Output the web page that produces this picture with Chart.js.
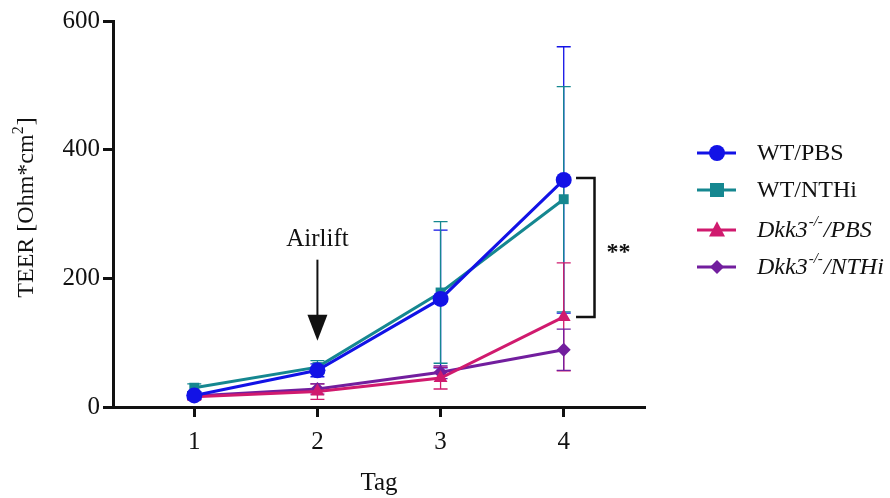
<!DOCTYPE html>
<html>
<head>
<meta charset="utf-8">
<script src="https://cdn.jsdelivr.net/npm/chart.js@4/dist/chart.umd.min.js"></script>
<style>
  html, body { margin: 0; padding: 0; background: #fff; }
  #wrap { width: 890px; height: 498px; }
</style>
</head>
<body>
<div id="wrap"><canvas id="chart" width="890" height="498"></canvas></div>
<script>
const days = [1, 2, 3, 4]
const yTicks = [0, 200, 400, 600]

const wtPbs = [18, 57, 168, 353]
const wtPbsSd = [6, 10, 107, 207]
const wtNthi = [30, 62, 178, 323]
const wtNthiSd = [6, 10, 110, 175]
const koPbs = [16, 24, 45, 140]
const koPbsSd = [5, 12, 17, 84]
const koNthi = [17, 28, 54, 89]
const koNthiSd = [5, 8, 10, 32]

const FONT = "'Liberation Serif', 'Times New Roman', serif"

const series = [
  { name: "WT/PBS", sup: "", tail: "", italic: false, data: wtPbs, sd: wtPbsSd, color: "#1212e6", style: "circle", r: 8 },
  { name: "WT/NTHi", sup: "", tail: "", italic: false, data: wtNthi, sd: wtNthiSd, color: "#158790", style: "rect", r: 7 },
  { name: "Dkk3", sup: "-/-", tail: "/PBS", italic: true, data: koPbs, sd: koPbsSd, color: "#d01a6e", style: "triangle", r: 8 },
  { name: "Dkk3", sup: "-/-", tail: "/NTHi", italic: true, data: koNthi, sd: koNthiSd, color: "#721e9e", style: "rectRot", r: 7 }
]

function drawMarker(ctx, style, x, y, r, color) {
  ctx.save()
  ctx.fillStyle = color
  ctx.beginPath()
  if (style == "circle") {
    ctx.arc(x, y, r, 0, Math.PI * 2)
  } else if (style == "rect") {
    ctx.rect(x - r, y - r, r * 2, r * 2)
  } else if (style == "triangle") {
    ctx.moveTo(x, y - r * 1.1)
    ctx.lineTo(x + r, y + r * 0.8)
    ctx.lineTo(x - r, y + r * 0.8)
    ctx.closePath()
  } else {
    ctx.moveTo(x, y - r)
    ctx.lineTo(x + r, y)
    ctx.lineTo(x, y + r)
    ctx.lineTo(x - r, y)
    ctx.closePath()
  }
  ctx.fill()
  ctx.restore()
}

const extras = {
  id: "extras",
  beforeDatasetsDraw(chart) {
    const ctx = chart.ctx
    const xs = chart.scales.x, ys = chart.scales.y
    ctx.save()
    ctx.lineWidth = 1.3
    series.forEach(s => {
      ctx.strokeStyle = s.color
      s.data.forEach((v, i) => {
        const x = xs.getPixelForValue(days[i])
        const top = ys.getPixelForValue(v + s.sd[i])
        const bot = ys.getPixelForValue(Math.max(0, v - s.sd[i]))
        ctx.beginPath()
        ctx.moveTo(x, top); ctx.lineTo(x, bot)
        ctx.moveTo(x - 7, top); ctx.lineTo(x + 7, top)
        ctx.moveTo(x - 7, bot); ctx.lineTo(x + 7, bot)
        ctx.stroke()
      })
    })
    ctx.restore()
  },
  afterDraw(chart) {
    const ctx = chart.ctx
    const xs = chart.scales.x, ys = chart.scales.y
    ctx.save()
    ctx.fillStyle = "#111"
    ctx.strokeStyle = "#111"

    // y axis title, with a real superscript
    ctx.save()
    ctx.translate(33, 208)
    ctx.rotate(-Math.PI / 2)
    ctx.font = "24px " + FONT
    ctx.textBaseline = "alphabetic"
    ctx.textAlign = "left"
    const t1 = "TEER [Ohm*cm", t2 = "2", t3 = "]"
    const w1 = ctx.measureText(t1).width
    ctx.font = "16px " + FONT
    const w2 = ctx.measureText(t2).width
    ctx.font = "24px " + FONT
    const w3 = ctx.measureText(t3).width
    let sx = -(w1 + w2 + w3) / 2
    ctx.fillText(t1, sx, 0)
    ctx.font = "16px " + FONT
    ctx.fillText(t2, sx + w1, -10)
    ctx.font = "24px " + FONT
    ctx.fillText(t3, sx + w1 + w2 + 1, 0)
    ctx.restore()

    // Airlift arrow
    const ax = xs.getPixelForValue(2)
    ctx.font = "25px " + FONT
    ctx.textAlign = "center"
    ctx.textBaseline = "alphabetic"
    ctx.fillText("Airlift", ax, ys.getPixelForValue(250))
    ctx.lineWidth = 2
    ctx.beginPath()
    ctx.moveTo(ax, ys.getPixelForValue(229))
    ctx.lineTo(ax, ys.getPixelForValue(140))
    ctx.stroke()
    const tip = ys.getPixelForValue(103)
    ctx.beginPath()
    ctx.moveTo(ax - 10, tip - 26)
    ctx.lineTo(ax + 10, tip - 26)
    ctx.lineTo(ax, tip)
    ctx.closePath()
    ctx.fill()

    // significance bracket
    const bx = xs.getPixelForValue(4.25)
    const bl = xs.getPixelForValue(4.1)
    const bt = ys.getPixelForValue(356)
    const bb = ys.getPixelForValue(140)
    ctx.lineWidth = 2.5
    ctx.beginPath()
    ctx.moveTo(bl, bt); ctx.lineTo(bx, bt); ctx.lineTo(bx, bb); ctx.lineTo(bl, bb)
    ctx.stroke()
    ctx.font = "bold 24px " + FONT
    ctx.textAlign = "left"
    ctx.textBaseline = "middle"
    ctx.fillText("**", bx + 12, (bt + bb) / 2 + 5)

    // legend
    const lx = 697, rows = [153, 190, 230, 267]
    series.forEach((s, i) => {
      const y = rows[i]
      ctx.strokeStyle = s.color
      ctx.lineWidth = 3
      ctx.beginPath()
      ctx.moveTo(lx, y); ctx.lineTo(lx + 39, y)
      ctx.stroke()
      drawMarker(ctx, s.style, lx + 20, y, s.r, s.color)
      ctx.fillStyle = "#111"
      ctx.textAlign = "left"
      ctx.textBaseline = "middle"
      const it = s.italic ? "italic " : ""
      ctx.font = it + "24px " + FONT
      let tx = 757
      ctx.fillText(s.name, tx, y + 1)
      tx += ctx.measureText(s.name).width
      if (s.sup) {
        ctx.font = it + "15px " + FONT
        ctx.fillText(s.sup, tx + 1, y - 8)
        tx += ctx.measureText(s.sup).width + 2
        ctx.font = it + "24px " + FONT
        ctx.fillText(s.tail, tx, y + 1)
      }
    })
    ctx.restore()
  }
}

const datasets = series.map(s => ({
  label: s.name + s.sup + s.tail,
  data: s.data.map((v, i) => ({ x: days[i], y: v })),
  borderColor: s.color,
  backgroundColor: s.color,
  borderWidth: 3,
  pointStyle: s.style,
  pointRadius: s.r,
  pointHoverRadius: s.r,
  pointBorderWidth: 0,
  tension: 0
}))

new Chart(document.querySelector("#chart").getContext("2d"), {
  type: "line",
  data: { datasets: datasets },
  options: {
    responsive: false,
    animation: false,
    layout: { padding: { top: 21, right: 245, left: 0, bottom: 0 } },
    plugins: { legend: { display: false }, tooltip: { enabled: false } },
    scales: {
      x: {
        type: "linear",
        min: 0.34,
        max: 4.66,
        afterBuildTicks: sc => { sc.ticks = days.map(v => ({ value: v })) },
        afterFit: sc => { sc.height = 91 },
        border: { color: "#111", width: 3 },
        grid: { drawOnChartArea: false, drawTicks: true, tickLength: 10, tickWidth: 3, tickColor: "#111" },
        ticks: { color: "#111", font: { family: FONT, size: 25 }, padding: 10, callback: v => v },
        title: { display: true, text: "Tag", color: "#111", font: { family: FONT, size: 25 }, padding: { top: 4, bottom: 0 } }
      },
      y: {
        min: 0,
        max: 600,
        afterBuildTicks: sc => { sc.ticks = yTicks.map(v => ({ value: v })) },
        afterFit: sc => { sc.width = 113 },
        border: { color: "#111", width: 3 },
        grid: { drawOnChartArea: false, drawTicks: true, tickLength: 10, tickWidth: 3, tickColor: "#111" },
        ticks: { color: "#111", font: { family: FONT, size: 25 }, padding: 3 },
        title: { display: false }
      }
    }
  },
  plugins: [extras]
})
</script>
</body>
</html>
